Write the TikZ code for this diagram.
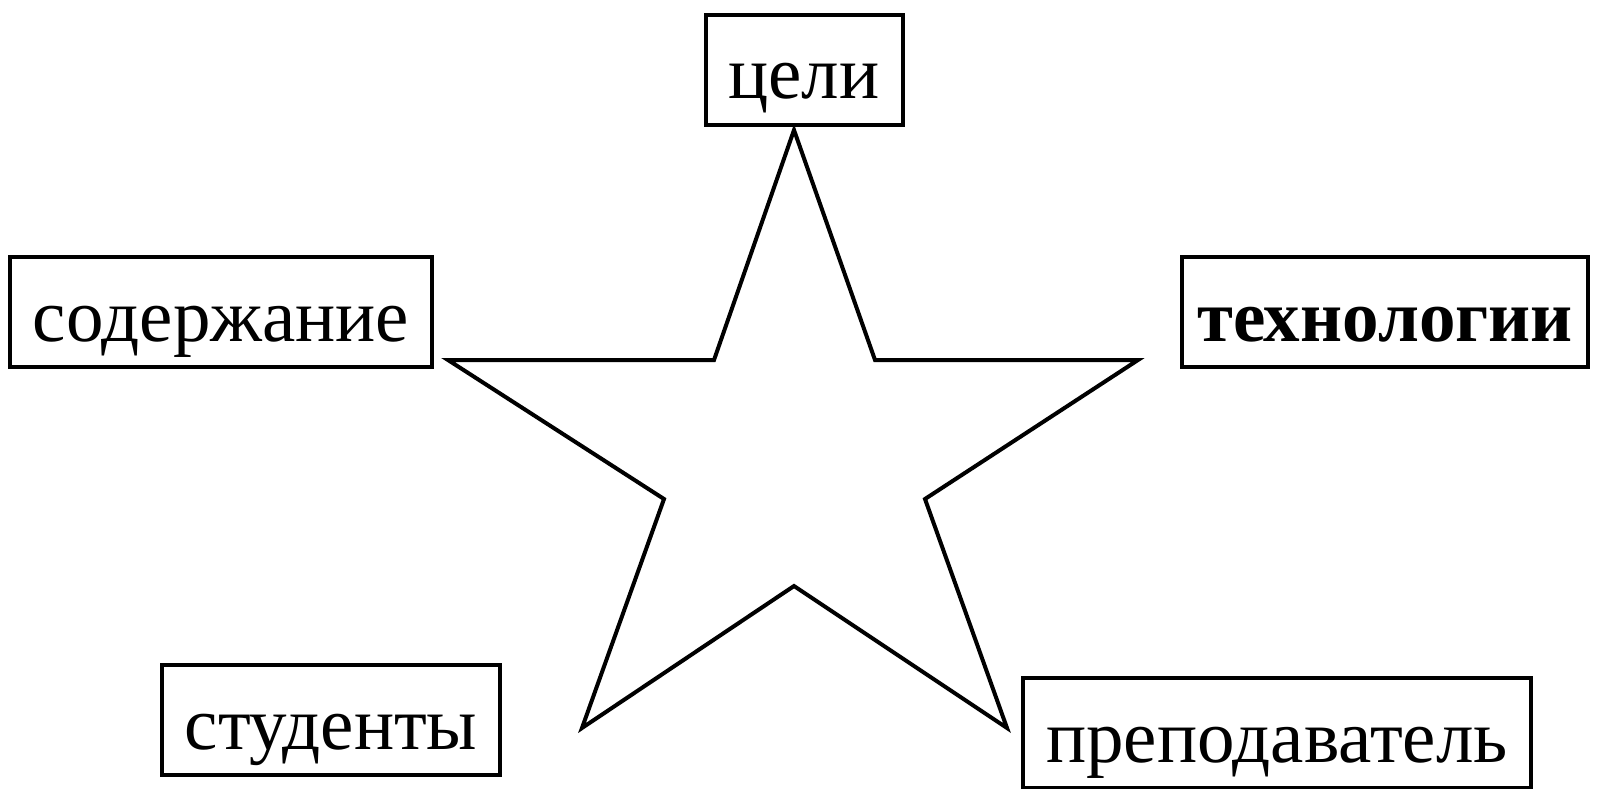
\documentclass[tikz,border=0pt]{standalone}
\usepackage{fontspec}
\setmainfont{Liberation Serif}
\usepackage{tikz}

\begin{document}
\begin{tikzpicture}[x=1pt, y=-1pt, line width=4pt,
		elem/.style={draw, inner xsep=23pt, minimum height=110pt, text height=58pt, text depth=0pt, font=\fontsize{75}{90}\selectfont}]
					\useasboundingbox (0,0) rectangle (1598,789);
					% star
					\draw[line join=miter] (794,130) -- (714,360) -- (448,360) -- (664,499) -- (582,728) -- (794,586)
						-- (1007,728) -- (925,499) -- (1138,360) -- (875,360) -- cycle;
					% elements
					\node[elem] (goals) at (804,70) {цели};
					\node[elem] (content) at (221,312) {содержание};
					\node[elem, inner xsep=15pt, font=\fontsize{73}{88}\selectfont\bfseries] (tech) at (1385,312) {технологии};
					\node[elem] (students) at (331,720) {студенты};
					\node[elem] (teacher) at (1277,733) {преподаватель};
				\end{tikzpicture}
\end{document}
